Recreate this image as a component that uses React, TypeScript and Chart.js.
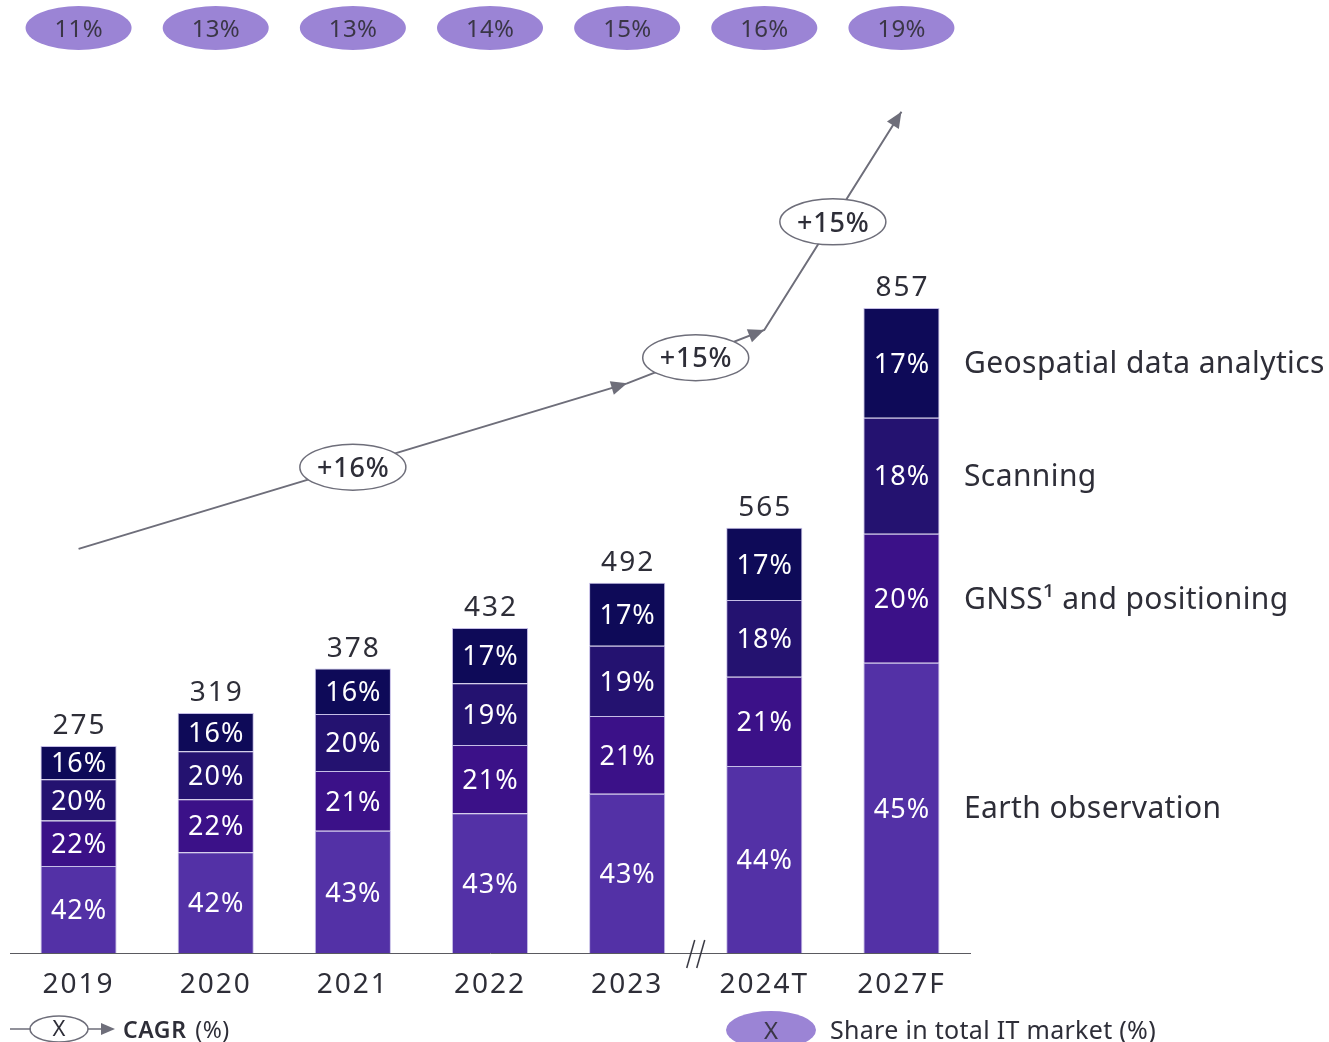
import React, { useEffect, useRef } from "react";
import { Chart, registerables } from "chart.js";
Chart.register(...registerables);

const FONT = "'Noto Sans', 'DejaVu Sans', sans-serif";
const TEXT = "#2e2e38";

const categories = ["2019", "2020", "2021", "2022", "2023", "2024T", "2027F"];
const totals = [275, 319, 378, 432, 492, 565, 857];
const earthObsPct = [42, 42, 43, 43, 43, 44, 45];
const gnssPct = [22, 22, 21, 21, 21, 21, 20];
const scanningPct = [20, 20, 20, 19, 19, 18, 18];
const geoPct = [16, 16, 16, 17, 17, 17, 17];
const itSharePct = [11, 13, 13, 14, 15, 16, 19];
const cagrLabels = ["+16%", "+15%", "+15%"];
const cagrPath: (number | null)[] = [537, null, null, null, 757, 828, 1118];
const cagrNodes = [0, 4, 5, 6];
const segmentNames = ["Earth observation", "GNSS\u00B9 and positioning", "Scanning", "Geospatial data analytics"];
const segmentColors = ["#5331A6", "#3B1188", "#241270", "#0E0A58"];

const pctSeries = [earthObsPct, gnssPct, scanningPct, geoPct];

function arrowHead(ctx: CanvasRenderingContext2D, fx: number, fy: number, tx: number, ty: number, len = 16, half = 7) {
  const a = Math.atan2(ty - fy, tx - fx);
  ctx.beginPath();
  ctx.moveTo(tx, ty);
  ctx.lineTo(tx - len * Math.cos(a) + half * Math.sin(a), ty - len * Math.sin(a) - half * Math.cos(a));
  ctx.lineTo(tx - len * Math.cos(a) - half * Math.sin(a), ty - len * Math.sin(a) + half * Math.cos(a));
  ctx.closePath();
  ctx.fill();
}

function txt(
  ctx: CanvasRenderingContext2D,
  s: string,
  x: number,
  y: number,
  font: string,
  color: string,
  spacing = 0,
  align: CanvasTextAlign = "center"
) {
  ctx.font = font;
  ctx.fillStyle = color;
  ctx.textAlign = align;
  ctx.textBaseline = "middle";
  (ctx as any).letterSpacing = spacing + "px";
  ctx.fillText(s, align === "center" ? x + spacing / 2 : x, y);
  (ctx as any).letterSpacing = "0px";
}

const overlay = {
  id: "overlay",
  beforeDraw(chart: any) {
    (chart.ctx as any).letterSpacing = "2px";
  },
  beforeDatasetsDraw(chart: any) {
    (chart.ctx as any).letterSpacing = "0px";
  },
  afterDatasetsDraw(chart: any) {
    const ctx: CanvasRenderingContext2D = chart.ctx;
    const xs = chart.scales.x;
    const yl = chart.scales.yLine;
    ctx.save();

    // segment labels
    for (let d = 0; d < 4; d++) {
      const meta = chart.getDatasetMeta(d);
      meta.data.forEach((el: any, i: number) => {
        txt(ctx, pctSeries[d][i] + "%", el.x, (el.y + el.base) / 2 + 2, `27px ${FONT}`, "#ffffff", 1);
      });
    }
    // totals
    const topMeta = chart.getDatasetMeta(3);
    topMeta.data.forEach((el: any, i: number) => {
      txt(ctx, String(totals[i]), el.x, el.y - 20, `28px ${FONT}`, TEXT, 2);
    });
    // right side segment names
    for (let d = 0; d < 4; d++) {
      const el = chart.getDatasetMeta(d).data[categories.length - 1];
      txt(ctx, segmentNames[d], 964, (el.y + el.base) / 2 + 2, `30px ${FONT}`, TEXT, 0.4, "left");
    }

    // top share ellipses
    itSharePct.forEach((v, i) => {
      const cx = xs.getPixelForValue(i);
      ctx.fillStyle = "#9B84D5";
      ctx.beginPath();
      ctx.ellipse(cx, 28, 53, 22, 0, 0, Math.PI * 2);
      ctx.fill();
      txt(ctx, v + "%", cx, 30, `24px ${FONT}`, "#3a3646", 0.3);
    });

    // CAGR arrows and ellipses
    const pts = cagrNodes.map((i) => ({ x: xs.getPixelForValue(i), y: yl.getPixelForValue(cagrPath[i] as number) }));
    ctx.fillStyle = "#6e6e7a";
    for (let s = 0; s < 3; s++) {
      arrowHead(ctx, pts[s].x, pts[s].y, pts[s + 1].x, pts[s + 1].y);
    }
    for (let s = 0; s < 3; s++) {
      const mx = (pts[s].x + pts[s + 1].x) / 2;
      const my = (pts[s].y + pts[s + 1].y) / 2 + 1;
      ctx.beginPath();
      ctx.ellipse(mx, my, 53, 23, 0, 0, Math.PI * 2);
      ctx.fillStyle = "#ffffff";
      ctx.fill();
      ctx.lineWidth = 1.5;
      ctx.strokeStyle = "#6e6e7a";
      ctx.stroke();
      txt(ctx, cagrLabels[s], mx, my + 2, `500 27px ${FONT}`, TEXT, 0.8);
    }

    // axis break marks
    const bx = (xs.getPixelForValue(4) + xs.getPixelForValue(5)) / 2;
    const by = chart.chartArea.bottom;
    ctx.strokeStyle = "#3a3a44";
    ctx.lineWidth = 1.5;
    [-5, 5].forEach((o) => {
      ctx.beginPath();
      ctx.moveTo(bx + o - 4, by + 15);
      ctx.lineTo(bx + o + 4, by - 13);
      ctx.stroke();
    });

    // legend: CAGR
    const ly = 1029;
    ctx.strokeStyle = "#6e6e7a";
    ctx.lineWidth = 1.5;
    ctx.beginPath();
    ctx.moveTo(10, ly);
    ctx.lineTo(31, ly);
    ctx.moveTo(88, ly);
    ctx.lineTo(102, ly);
    ctx.stroke();
    ctx.beginPath();
    ctx.ellipse(59, ly, 29, 13, 0, 0, Math.PI * 2);
    ctx.stroke();
    ctx.fillStyle = "#6e6e7a";
    arrowHead(ctx, 90, ly, 115, ly, 14, 6);
    txt(ctx, "X", 59, ly + 1, `22px ${FONT}`, TEXT);
    txt(ctx, "CAGR", 123, ly + 2, `600 23px ${FONT}`, TEXT, 0.6, "left");
    ctx.font = `600 23px ${FONT}`;
    (ctx as any).letterSpacing = "0.6px";
    const w = ctx.measureText("CAGR ").width;
    (ctx as any).letterSpacing = "0px";
    txt(ctx, "(%)", 123 + w + 2, ly + 2, `23px ${FONT}`, TEXT, 0.6, "left");

    // legend: share
    ctx.fillStyle = "#9B84D5";
    ctx.beginPath();
    ctx.ellipse(771, 1030, 45, 19, 0, 0, Math.PI * 2);
    ctx.fill();
    txt(ctx, "X", 771, 1032, `24px ${FONT}`, "#3a3646");
    txt(ctx, "Share in total IT market (%)", 830, 1032, `25px ${FONT}`, TEXT, 0.3, "left");
    ctx.restore();
  },
};

export default function App() {
  const ref = useRef<HTMLCanvasElement>(null);
  useEffect(() => {
    Chart.defaults.font.family = FONT;
    const datasets: any[] = pctSeries.map((pct, d) => ({
      type: "bar",
      label: segmentNames[d],
      data: totals.map((t, i) => (t * pct[i]) / 100),
      backgroundColor: segmentColors[d],
      borderColor: "rgba(150,135,210,0.55)",
      borderWidth: 1,
      barPercentage: 0.555,
      categoryPercentage: 1,
      stack: "market",
      yAxisID: "y",
    }));
    datasets.push({
      type: "line",
      label: "CAGR",
      data: cagrPath,
      spanGaps: true,
      borderColor: "#6e6e7a",
      borderWidth: 2,
      pointRadius: 0,
      yAxisID: "yLine",
    });
    const chart = new Chart(ref.current!, {
      type: "bar",
      data: { labels: categories, datasets },
      options: {
        responsive: false,
        animation: false,
        devicePixelRatio: 1,
        layout: { padding: { left: 10, right: 359, top: 50, bottom: 0 } },
        plugins: { legend: { display: false }, tooltip: { enabled: false } },
        scales: {
          x: {
            stacked: true,
            grid: { display: false, drawTicks: false },
            border: { display: true, color: "#5a5a60", width: 1 },
            ticks: { color: TEXT, font: { size: 28, family: FONT }, padding: 15 },
            afterFit: (s: any) => {
              s.height = 89;
            },
          },
          y: { stacked: true, display: false, min: 0, max: 1200 },
          yLine: { display: false, min: 0, max: 1200 },
        },
      } as any,
      plugins: [overlay],
    });
    return () => chart.destroy();
  }, []);
  return (
    <div style={{ position: "fixed", left: 0, top: 0, width: 1329, height: 1042, background: "#fff" }}>
      <canvas ref={ref} width={1329} height={1042} style={{ display: "block", width: 1329, height: 1042 }} />
    </div>
  );
}
